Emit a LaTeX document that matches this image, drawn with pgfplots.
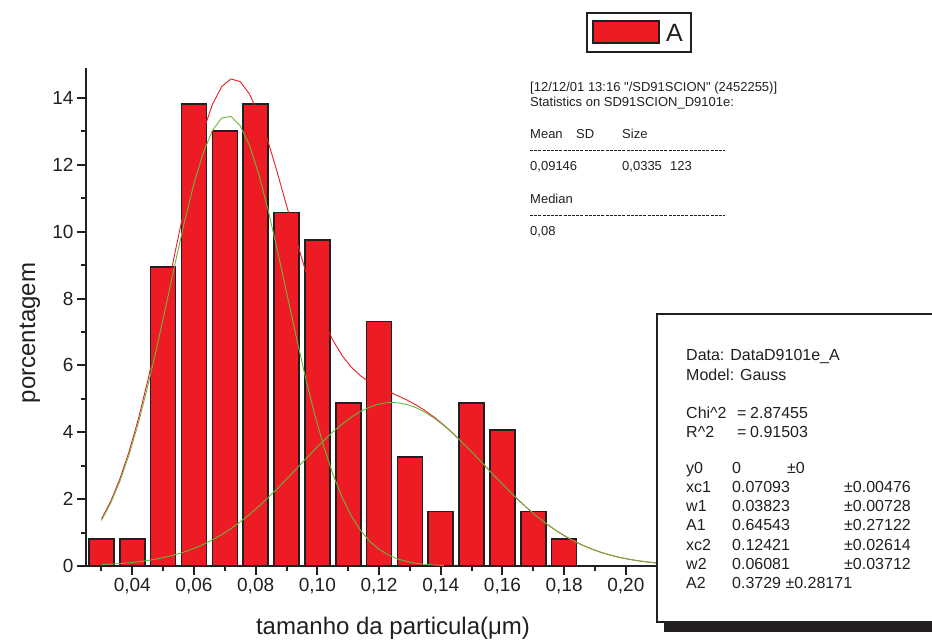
\documentclass[border=0pt]{standalone}
\usepackage{fontspec}
\setmainfont{Liberation Sans}
\usepackage{pgfplots}
\pgfplotsset{compat=1.18}
\definecolor{barred}{RGB}{237,28,36}
\definecolor{fitgreen}{RGB}{100,185,60}
\definecolor{axcol}{RGB}{35,31,32}

\begin{document}
\begin{tikzpicture}[x=1pt,y=1pt]
\useasboundingbox (0,0) rectangle (932,641);
\begin{axis}[
  at={(86pt,75pt)}, anchor=south west,
  scale only axis, width=632.4pt, height=498.1pt,
  xmin=0.025, xmax=0.23, ymin=0, ymax=14.9,
  axis x line*=bottom, axis y line*=left,
  axis line style={line width=2pt, axcol, -},
  every tick/.style={line width=2pt, axcol},
  tick align=outside, major tick length=9pt, minor tick length=5pt,
  xtick={0.04,0.06,0.08,0.10,0.12,0.14,0.16,0.18,0.20},
  xticklabels={{0,04},{0,06},{0,08},{0,10},{0,12},{0,14},{0,16},{0,18},{0,20}},
  minor xtick={0.03,0.05,0.07,0.09,0.11,0.13,0.15,0.17,0.19,0.21},
  ytick={0,2,4,6,8,10,12,14},
  minor ytick={1,3,5,7,9,11,13},
  /pgf/number format/assume math mode=true,
  ticklabel style={font=\fontsize{19pt}{19pt}\selectfont, text=axcol},
  xlabel={tamanho da particula(μm)},
  ylabel={porcentagem},
  xlabel style={at={(axis description cs:0.4855,-0.1245)}, anchor=center, font=\fontsize{24pt}{24pt}\selectfont, text=axcol},
  ylabel style={at={(axis description cs:-0.0886,0.4678)}, anchor=center, rotate=0, font=\fontsize{24pt}{24pt}\selectfont, text=axcol},
]
\addplot[ybar, bar width=0.0081, fill=barred, draw=axcol, line width=1.6pt] coordinates {
(0.03,0.813) (0.04,0.813) (0.05,8.943) (0.06,13.821) (0.07,13.008) (0.08,13.821)
(0.09,10.569) (0.10,9.756) (0.11,4.878) (0.12,7.317) (0.13,3.252) (0.14,1.626)
(0.15,4.878) (0.16,4.065) (0.17,1.626) (0.18,0.813)
};
% cumulative fit (red)
\addplot[barred, line width=0.9pt] coordinates {
(0.030,1.401) (0.033,1.935) (0.036,2.610) (0.039,3.434) (0.042,4.412) (0.045,5.532)
(0.048,6.772) (0.051,8.091) (0.054,9.440) (0.057,10.754) (0.060,11.964) (0.063,13.004)
(0.066,13.812) (0.069,14.343) (0.072,14.569) (0.075,14.489) (0.078,14.121) (0.081,13.507)
(0.084,12.703) (0.087,11.774) (0.090,10.787) (0.093,9.806) (0.096,8.881) (0.099,8.052)
(0.102,7.342) (0.105,6.759) (0.108,6.299) (0.111,5.949) (0.114,5.689) (0.117,5.495)
(0.120,5.345) (0.123,5.219) (0.126,5.097) (0.129,4.966) (0.132,4.817) (0.135,4.643)
(0.138,4.443) (0.141,4.217) (0.144,3.968) (0.147,3.699) (0.150,3.417) (0.153,3.126)
(0.156,2.833) (0.159,2.543) (0.162,2.260) (0.165,1.990) (0.168,1.734) (0.171,1.497)
(0.174,1.280) (0.177,1.084) (0.180,0.909) (0.183,0.755) (0.186,0.621) (0.189,0.505)
(0.192,0.407) (0.195,0.326) (0.198,0.257) (0.201,0.202) (0.204,0.156) (0.207,0.120)
(0.210,0.091)
};
% peak 1 (green)
\addplot[fitgreen, line width=0.9pt] coordinates {
(0.030,1.361) (0.033,1.881) (0.036,2.537) (0.039,3.338) (0.042,4.285) (0.045,5.368)
(0.048,6.560) (0.051,7.822) (0.054,9.100) (0.057,10.329) (0.060,11.438) (0.063,12.359)
(0.066,13.029) (0.069,13.402) (0.072,13.449) (0.075,13.168) (0.078,12.580) (0.081,11.725)
(0.084,10.662) (0.087,9.460) (0.090,8.189) (0.093,6.917) (0.096,5.700) (0.099,4.582)
(0.102,3.595) (0.105,2.751) (0.108,2.055) (0.111,1.497) (0.114,1.064) (0.117,0.738)
(0.120,0.499) (0.123,0.330) (0.126,0.212) (0.129,0.133) (0.132,0.082) (0.135,0.049)
(0.138,0.029) (0.141,0.016)
};
% peak 2 (green)
\addplot[fitgreen, line width=0.9pt] coordinates {
(0.030,0.040) (0.033,0.054) (0.036,0.073) (0.039,0.096) (0.042,0.126) (0.045,0.164)
(0.048,0.212) (0.051,0.270) (0.054,0.340) (0.057,0.425) (0.060,0.526) (0.063,0.645)
(0.066,0.783) (0.069,0.941) (0.072,1.120) (0.075,1.321) (0.078,1.542) (0.081,1.782)
(0.084,2.041) (0.087,2.314) (0.090,2.598) (0.093,2.889) (0.096,3.182) (0.099,3.470)
(0.102,3.747) (0.105,4.008) (0.108,4.245) (0.111,4.452) (0.114,4.625) (0.117,4.757)
(0.120,4.846) (0.123,4.889) (0.126,4.884) (0.129,4.832) (0.132,4.735) (0.135,4.594)
(0.138,4.415) (0.141,4.201) (0.144,3.959) (0.147,3.694) (0.150,3.415) (0.153,3.125)
(0.156,2.832) (0.159,2.543) (0.162,2.260) (0.165,1.990) (0.168,1.734) (0.171,1.497)
(0.174,1.280) (0.177,1.084) (0.180,0.909) (0.183,0.755) (0.186,0.621) (0.189,0.505)
(0.192,0.407) (0.195,0.326) (0.198,0.257) (0.201,0.202) (0.204,0.156) (0.207,0.120)
(0.210,0.091)
};
\end{axis}

% legend
\draw[line width=1.3pt, axcol, fill=white] (587,628) rectangle (691,589);
\draw[line width=1.3pt, axcol, fill=barred] (593,620) rectangle (659,598);
\node[anchor=base west, inner sep=0pt, font=\fontsize{25pt}{25pt}\selectfont, text=axcol] at (666,599.5) {A};

% statistics text (baselines)
\begin{scope}[every node/.style={anchor=base west, inner sep=0pt, font=\fontsize{13pt}{13pt}\selectfont, text=axcol}]
\node at (530,549.5) {[12/12/01 13:16 \textquotedbl/SD91SCION\textquotedbl{} (2452255)]};
\node at (530,534.5) {Statistics on SD91SCION\_D9101e:};
\node at (530,502.5) {Mean};
\node at (576,502.5) {SD};
\node at (622,502.5) {Size};
\draw[axcol, line width=0.6pt, dash pattern=on 3pt off 1.2pt] (530,491) -- (725,491);
\node at (530,470.5) {0,09146};
\node at (622,470.5) {0,0335};
\node at (670,470.5) {123};
\node at (530,437.5) {Median};
\draw[axcol, line width=0.6pt, dash pattern=on 3pt off 1.2pt] (530,426) -- (725,426);
\node at (530,405.5) {0,08};
\end{scope}

% fit results box
\fill[axcol] (664,9) rectangle (945,320);
\draw[line width=1.3pt, axcol, fill=white] (657,327) rectangle (940,19);
\begin{scope}[every node/.style={anchor=base west, inner sep=0pt, font=\fontsize{16pt}{16pt}\selectfont, text=axcol}]
\node at (686,280.5) {Data: DataD9101e\_A};
\node at (686,260.5) {Model: Gauss};
\node at (686,222.5) {Chi\textasciicircum 2};
\node at (737,222.5) {=};
\node at (750,222.5) {2.87455};
\node at (686,203.5) {R\textasciicircum 2};
\node at (737,203.5) {=};
\node at (750,203.5) {0.91503};
\node at (686,167.5) {y0};
\node at (732,167.5) {0};
\node at (787,167.5) {±0};
\node at (686,148.5) {xc1};
\node at (732,148.5) {0.07093};
\node at (844,148.5) {±0.00476};
\node at (686,129.5) {w1};
\node at (732,129.5) {0.03823};
\node at (844,129.5) {±0.00728};
\node at (686,110.5) {A1};
\node at (732,110.5) {0.64543};
\node at (844,110.5) {±0.27122};
\node at (686,90.5) {xc2};
\node at (732,90.5) {0.12421};
\node at (844,90.5) {±0.02614};
\node at (686,71.5) {w2};
\node at (732,71.5) {0.06081};
\node at (844,71.5) {±0.03712};
\node at (686,52.5) {A2};
\node at (732,52.5) {0.3729 ±0.28171};
\end{scope}
\end{tikzpicture}
\end{document}
